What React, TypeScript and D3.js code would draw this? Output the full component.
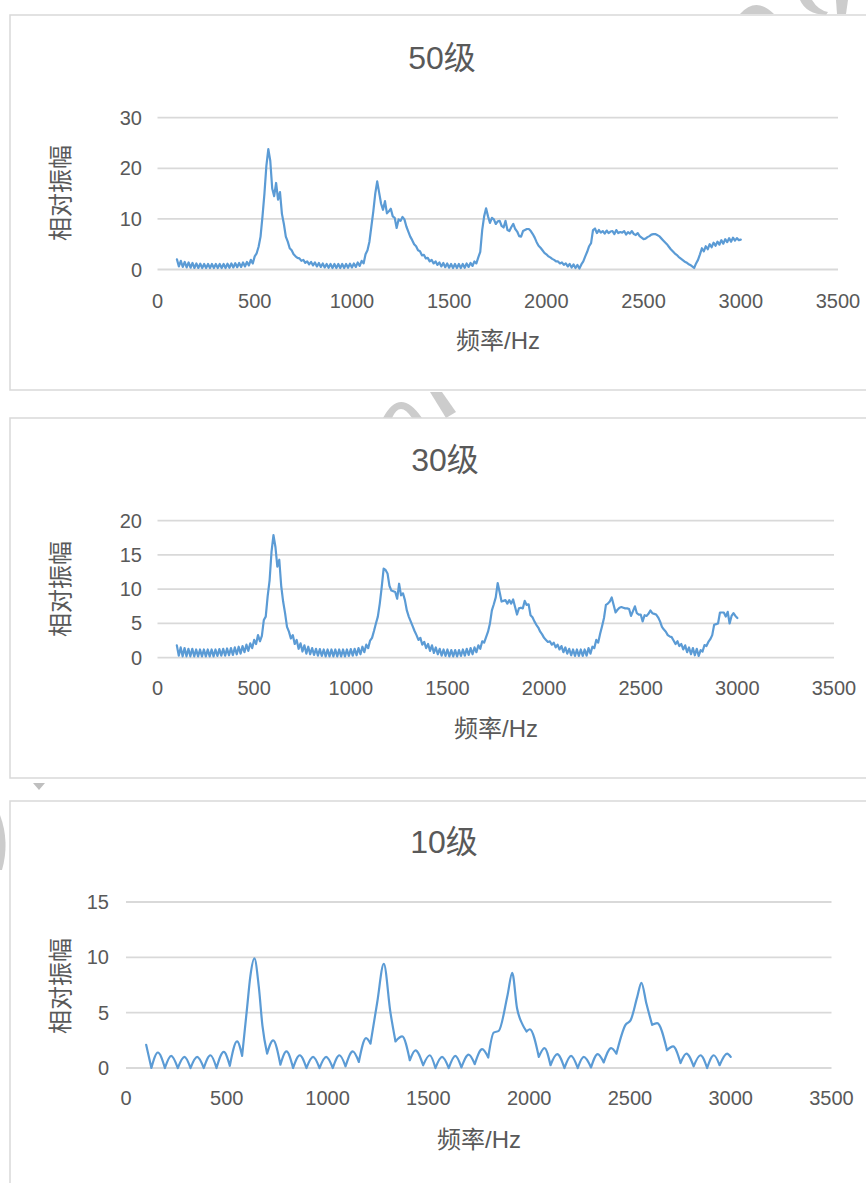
import { useEffect } from 'react'
import * as d3 from 'd3'

// sampling grid of the two dense series (Hz)
const FREQ_START = 100
const FREQ_STEP = 10

// 50级 — one row per 100 Hz (100 … 3000)
const AMP_50 = [
  2.0, 0.6, 1.7, 0.5, 1.5, 0.4, 1.4, 0.35, 1.3, 0.3,
  1.2, 0.3, 1.15, 0.3, 1.1, 0.3, 1.1, 0.3, 1.1, 0.3,
  1.1, 0.3, 1.1, 0.3, 1.1, 0.3, 1.15, 0.35, 1.2, 0.4,
  1.25, 0.45, 1.3, 0.5, 1.4, 0.6, 1.5, 0.8, 1.9, 1.2,
  2.6, 3.2, 4.5, 6.5, 10.5, 15.0, 20.5, 23.8, 21.5, 16.0,
  14.5, 17.1, 13.8, 15.3, 11.0, 9.0, 6.5, 5.5, 4.2, 3.8,
  3.0, 2.6, 2.3, 2.2, 1.7, 1.9, 1.3, 1.6, 1.0, 1.5,
  0.8, 1.4, 0.6, 1.3, 0.5, 1.2, 0.4, 1.1, 0.35, 1.1,
  0.3, 1.1, 0.3, 1.1, 0.3, 1.1, 0.3, 1.1, 0.35, 1.15,
  0.4, 1.2, 0.5, 1.4, 0.7, 1.7, 1.2, 3.0, 3.8, 5.5,
  8.5, 11.5, 15.0, 17.4, 15.2, 13.0, 11.8, 13.5, 11.1, 11.5,
  12.0, 10.5, 10.2, 8.2, 9.9, 9.6, 10.4, 9.9, 8.5, 7.5,
  6.5, 5.8, 5.0, 4.6, 3.8, 3.6, 2.8, 2.9, 2.2, 2.3,
  1.6, 1.9, 1.2, 1.6, 0.9, 1.4, 0.6, 1.3, 0.45, 1.2,
  0.35, 1.1, 0.3, 1.1, 0.3, 1.1, 0.3, 1.1, 0.35, 1.2,
  0.5, 1.3, 0.7, 1.6, 1.2, 2.4, 3.5, 7.8, 10.5, 12.1,
  10.5, 9.2, 10.2, 9.9, 9.0, 9.5, 9.6, 8.6, 8.3, 9.6,
  7.8, 7.6, 8.4, 9.0, 8.0, 7.5, 6.6, 6.5, 7.6, 7.8,
  8.0, 8.0, 7.6, 7.0, 6.3, 5.4, 4.7, 4.3, 3.8, 3.3,
  3.0, 2.6, 2.4, 2.1, 1.9, 1.6, 1.6, 1.2, 1.4, 0.9,
  1.2, 0.6, 1.1, 0.4, 1.0, 0.3, 0.9, 0.2, 1.0, 1.6,
  2.6, 3.5, 4.6, 5.2, 7.8, 8.1, 7.2, 7.8, 7.3, 7.6,
  7.1, 7.7, 7.2, 7.5, 7.6, 7.0, 7.8, 7.2, 7.4, 7.3,
  7.6, 6.9, 7.4, 7.1, 7.6, 7.0, 6.8, 7.2, 6.6, 6.3,
  6.0, 6.1, 6.4, 6.6, 6.9, 7.0, 7.0, 6.8, 6.6, 6.2,
  5.8, 5.4, 5.0, 4.5, 4.0, 3.6, 3.2, 2.9, 2.5, 2.2,
  1.9, 1.6, 1.4, 1.1, 0.9, 0.6, 0.3, 1.2, 1.9, 3.0,
  4.2, 3.6, 4.6, 4.0, 5.0, 4.4, 5.3, 4.7, 5.5, 4.9,
  5.8, 5.1, 6.0, 5.4, 6.2, 5.5, 6.3, 5.7, 6.2, 5.8,
  5.9
]

// 30级 — same grid
const AMP_30 = [
  1.8, 0.3, 1.5, 0.2, 1.4, 0.2, 1.3, 0.2, 1.3, 0.2,
  1.2, 0.2, 1.2, 0.2, 1.2, 0.2, 1.2, 0.2, 1.2, 0.2,
  1.2, 0.25, 1.25, 0.3, 1.3, 0.3, 1.35, 0.35, 1.4, 0.4,
  1.5, 0.5, 1.6, 0.6, 1.7, 0.8, 1.9, 1.0, 2.1, 1.4,
  2.6, 2.0, 3.3, 2.4, 3.2, 5.5, 6.0, 9.0, 11.3, 15.5,
  17.9, 16.2, 13.3, 14.3, 10.5, 8.2, 6.5, 4.5, 3.8, 2.8,
  3.3, 2.0, 2.6, 1.3, 2.1, 0.9, 1.8, 0.6, 1.6, 0.5,
  1.4, 0.4, 1.3, 0.3, 1.25, 0.25, 1.2, 0.2, 1.2, 0.2,
  1.2, 0.2, 1.2, 0.2, 1.2, 0.2, 1.2, 0.2, 1.2, 0.25,
  1.25, 0.3, 1.3, 0.35, 1.4, 0.5, 1.6, 0.8, 1.9, 1.4,
  2.5, 2.9, 3.9, 5.0, 6.0, 7.9, 10.3, 13.0, 12.8, 12.3,
  10.5, 9.8, 9.7, 9.6, 8.6, 10.8, 9.1, 9.4, 8.4, 6.9,
  6.0, 5.3, 4.6, 3.9, 3.3, 2.6, 2.9, 1.9, 2.3, 1.4,
  2.0, 1.0, 1.8, 0.7, 1.5, 0.5, 1.3, 0.3, 1.2, 0.25,
  1.2, 0.2, 1.1, 0.2, 1.1, 0.2, 1.1, 0.25, 1.2, 0.3,
  1.3, 0.4, 1.4, 0.5, 1.5, 0.8, 1.8, 1.3, 2.4, 2.2,
  3.0, 3.8, 5.0, 6.9, 7.8, 8.8, 10.9, 9.6, 8.2, 8.3,
  8.4, 7.9, 8.4, 7.9, 8.5, 7.4, 6.3, 7.2, 7.3, 7.2,
  8.3, 7.7, 7.8, 6.2, 5.9, 5.3, 4.8, 4.4, 3.8, 3.4,
  2.9, 2.6, 2.3, 2.4, 1.9, 2.2, 1.5, 1.9, 1.2, 1.7,
  0.8, 1.5, 0.6, 1.3, 0.35, 1.2, 0.25, 1.2, 0.25, 1.2,
  0.25, 1.2, 0.3, 1.4, 0.6, 1.6, 1.4, 2.6, 2.2, 3.5,
  4.6, 5.8, 7.7, 7.9, 8.2, 8.8, 7.7, 6.6, 7.0, 7.3,
  7.4, 7.3, 7.2, 7.2, 7.1, 6.1, 6.8, 7.5, 6.5, 6.3,
  6.3, 5.3, 6.2, 6.1, 6.4, 6.9, 6.5, 6.4, 6.3, 5.9,
  5.3, 4.5, 4.1, 3.8, 3.3, 3.1, 3.0, 2.5, 2.0, 2.4,
  1.7, 2.0, 1.2, 1.8, 0.8, 1.5, 0.5, 1.4, 0.35, 1.3,
  0.25, 1.1, 0.9, 1.85, 1.7, 2.3, 2.7, 3.3, 4.8, 4.9,
  5.0, 6.6, 6.6, 6.6, 6.0, 6.7, 5.0, 6.1, 6.5, 6.1,
  5.8
]

// 10级 — turning points
const FREQ_10 = [
  100, 126, 158, 193, 224, 257, 290, 320, 353, 386, 419, 449, 485, 515, 551, 576,
  601, 617, 637, 659, 677, 700, 730, 766, 796, 829, 862, 895, 928, 960, 993, 1026,
  1059, 1089, 1125, 1155, 1191, 1213, 1246, 1279, 1312, 1337, 1370, 1408, 1436, 1474,
  1507, 1535, 1568, 1601, 1634, 1664, 1700, 1730, 1767, 1797, 1824, 1849, 1893, 1916,
  1940, 1968, 1987, 2003, 2048, 2076, 2106, 2139, 2175, 2208, 2241, 2271, 2307, 2340,
  2370, 2407, 2433, 2478, 2503, 2536, 2557, 2582, 2610, 2635, 2684, 2714, 2751, 2780,
  2816, 2850, 2883, 2916, 2945, 2982, 3000
]
const AMP_10 = [
  2.1, 0.0, 1.4, 0.0, 1.1, 0.0, 1.0, 0.0, 1.0, 0.0, 1.15, 0.0, 1.45, 0.2, 2.4, 1.1,
  5.5, 8.3, 9.9, 7.3, 3.8, 1.3, 2.5, 0.3, 1.5, 0.0, 1.15, 0.0, 1.0, 0.0, 1.0, 0.0,
  1.15, 0.15, 1.5, 0.55, 2.7, 2.2, 5.9, 9.4, 5.0, 2.4, 2.85, 0.7, 1.6, 0.25,
  1.15, 0.0, 1.0, 0.0, 1.1, 0.05, 1.2, 0.35, 1.7, 0.95, 3.2, 3.35, 6.6, 8.6,
  5.4, 3.9, 3.3, 3.5, 1.0, 1.8, 0.25, 1.25, 0.0, 1.1, 0.0, 1.0, 0.05, 1.25,
  0.5, 1.8, 1.3, 3.9, 4.3, 6.4, 7.7, 5.8, 3.9, 4.05, 1.6, 1.95, 0.45, 1.3,
  0.15, 1.15, 0.0, 1.15, 0.25, 1.3, 1.0
]

const X_TICKS = [0, 500, 1000, 1500, 2000, 2500, 3000, 3500]
const Y_TICKS_50 = [0, 10, 20, 30]
const Y_TICKS_30 = [0, 5, 10, 15, 20]
const Y_TICKS_10 = [0, 5, 10, 15]

const TITLES = ['50级', '30级', '10级']
const X_TITLE = '频率/Hz'
const Y_TITLE = '相对振幅'

const LINE = '#5B9BD5'
const GRID = '#D9D9D9'
const TEXT = '#595959'
const FONT = '"Liberation Sans", "Noto Sans CJK SC", sans-serif'

type Layout = {
  boxTop: number
  boxH: number
  x0: number
  x1: number
  yBottom: number
  yTop: number
  titleX: number
  titleY: number
  xTitleX: number
  xTitleY: number
  yTitleY: number
  yLabelRight: number
  xLabelY: number
}

// build the path; with `cusps` the smooth curve is broken at every local
// minimum so the troughs stay pointed like in the original
function buildPath(freqs: number[], amps: number[], x: d3.ScaleLinear<number, number>,
  y: d3.ScaleLinear<number, number>, smooth: boolean) {
  const pts: [number, number][] = amps.map((v, i) => [x(freqs[i]), y(v)])
  if (!smooth) return d3.line()(pts) || ''

  const line = d3.line().curve(d3.curveMonotoneX)
  const cuts = [0]
  for (let i = 1; i < amps.length - 1; i++) {
    if (amps[i] < amps[i - 1] && amps[i] < amps[i + 1]) cuts.push(i)
  }
  cuts.push(amps.length - 1)
  let d = ''
  for (let k = 0; k < cuts.length - 1; k++) {
    d += line(pts.slice(cuts[k], cuts[k + 1] + 1)) || ''
  }
  return d
}

function Panel({ title, freqs, amps, yTicks, lay, smooth }: {
  title: string
  freqs: number[]
  amps: number[]
  yTicks: number[]
  lay: Layout
  smooth: boolean
}) {
  const x = d3.scaleLinear().domain([0, 3500]).range([lay.x0, lay.x1])
  const y = d3.scaleLinear().domain([0, yTicks[yTicks.length - 1]]).range([lay.yBottom, lay.yTop])

  return (
    <g fontFamily={FONT} fill={TEXT}>
      <rect x={10} y={lay.boxTop} width={880} height={lay.boxH} fill="#fff" stroke={GRID} strokeWidth={1.5} />
      <text x={lay.titleX} y={lay.titleY} fontSize={32} textAnchor="middle" dominantBaseline="central">{title}</text>

      {yTicks.map(t => (
        <g key={t}>
          <line x1={lay.x0} x2={lay.x1} y1={y(t)} y2={y(t)} stroke={GRID} strokeWidth={1.8} />
          <text x={lay.yLabelRight} y={y(t)} fontSize={20} textAnchor="end" dominantBaseline="central">{t}</text>
        </g>
      ))}

      {X_TICKS.map(t => (
        <text key={t} x={x(t)} y={lay.xLabelY} fontSize={20} textAnchor="middle" dominantBaseline="central">{t}</text>
      ))}

      <path
        d={buildPath(freqs, amps, x, y, smooth)}
        fill="none"
        stroke={LINE}
        strokeWidth={2.2}
        strokeLinejoin="round"
        strokeLinecap="round"
      />

      <text x={lay.xTitleX} y={lay.xTitleY} fontSize={24} textAnchor="middle" dominantBaseline="central">{X_TITLE}</text>
      <text
        transform={`translate(60,${lay.yTitleY}) rotate(-90)`}
        fontSize={24}
        textAnchor="middle"
        dominantBaseline="central"
      >
        {Y_TITLE}
      </text>
    </g>
  )
}

export default function App() {
  useEffect(() => {
    document.body.style.margin = '0'
  }, [])

  const grid50 = d3.range(AMP_50.length).map(i => FREQ_START + i * FREQ_STEP)
  const grid30 = d3.range(AMP_30.length).map(i => FREQ_START + i * FREQ_STEP)

  const lay1: Layout = {
    boxTop: 15, boxH: 375, x0: 157.5, x1: 838, yBottom: 269.5, yTop: 117.7,
    titleX: 442, titleY: 58, xTitleX: 498, xTitleY: 340, yTitleY: 193,
    yLabelRight: 142, xLabelY: 301
  }
  const lay2: Layout = {
    boxTop: 418, boxH: 360, x0: 157.5, x1: 834, yBottom: 657.7, yTop: 520.7,
    titleX: 445, titleY: 460, xTitleX: 496, xTitleY: 728, yTitleY: 589,
    yLabelRight: 142, xLabelY: 688
  }
  const lay3: Layout = {
    boxTop: 801, boxH: 420, x0: 126, x1: 831.5, yBottom: 1068, yTop: 902,
    titleX: 444, titleY: 842, xTitleX: 479, xTitleY: 1139, yTitleY: 986,
    yLabelRight: 109, xLabelY: 1098
  }

  return (
    <svg width={866} height={1183} style={{ display: 'block', background: '#fff' }}>
      {/* watermark fragments peeking between the boxes */}
      <g fill="#CCCCCC" stroke="none">
        <path d="M740 14 Q756 -4 774 14 Z" />
        <path d="M800 0 L812 0 Q818 10 828 12 L826 15 Q806 14 800 0 Z" />
        <path d="M836 0 L848 0 L846 14 L837 14 Z" />
        <path d="M383 418 Q400 386 422 418 L412 418 Q400 400 392 418 Z" />
        <path d="M430 392 L442 392 L456 412 L446 418 Z" />
        <path d="M0 815 Q10 842 2 870 L0 870 Z" />
        <path d="M33 783 L45 783 L39 790 Z" fill="#BFBFBF" />
      </g>
      <Panel title={TITLES[0]} freqs={grid50} amps={AMP_50} yTicks={Y_TICKS_50} lay={lay1} smooth={false} />
      <Panel title={TITLES[1]} freqs={grid30} amps={AMP_30} yTicks={Y_TICKS_30} lay={lay2} smooth={false} />
      <Panel title={TITLES[2]} freqs={FREQ_10} amps={AMP_10} yTicks={Y_TICKS_10} lay={lay3} smooth={true} />
    </svg>
  )
}
